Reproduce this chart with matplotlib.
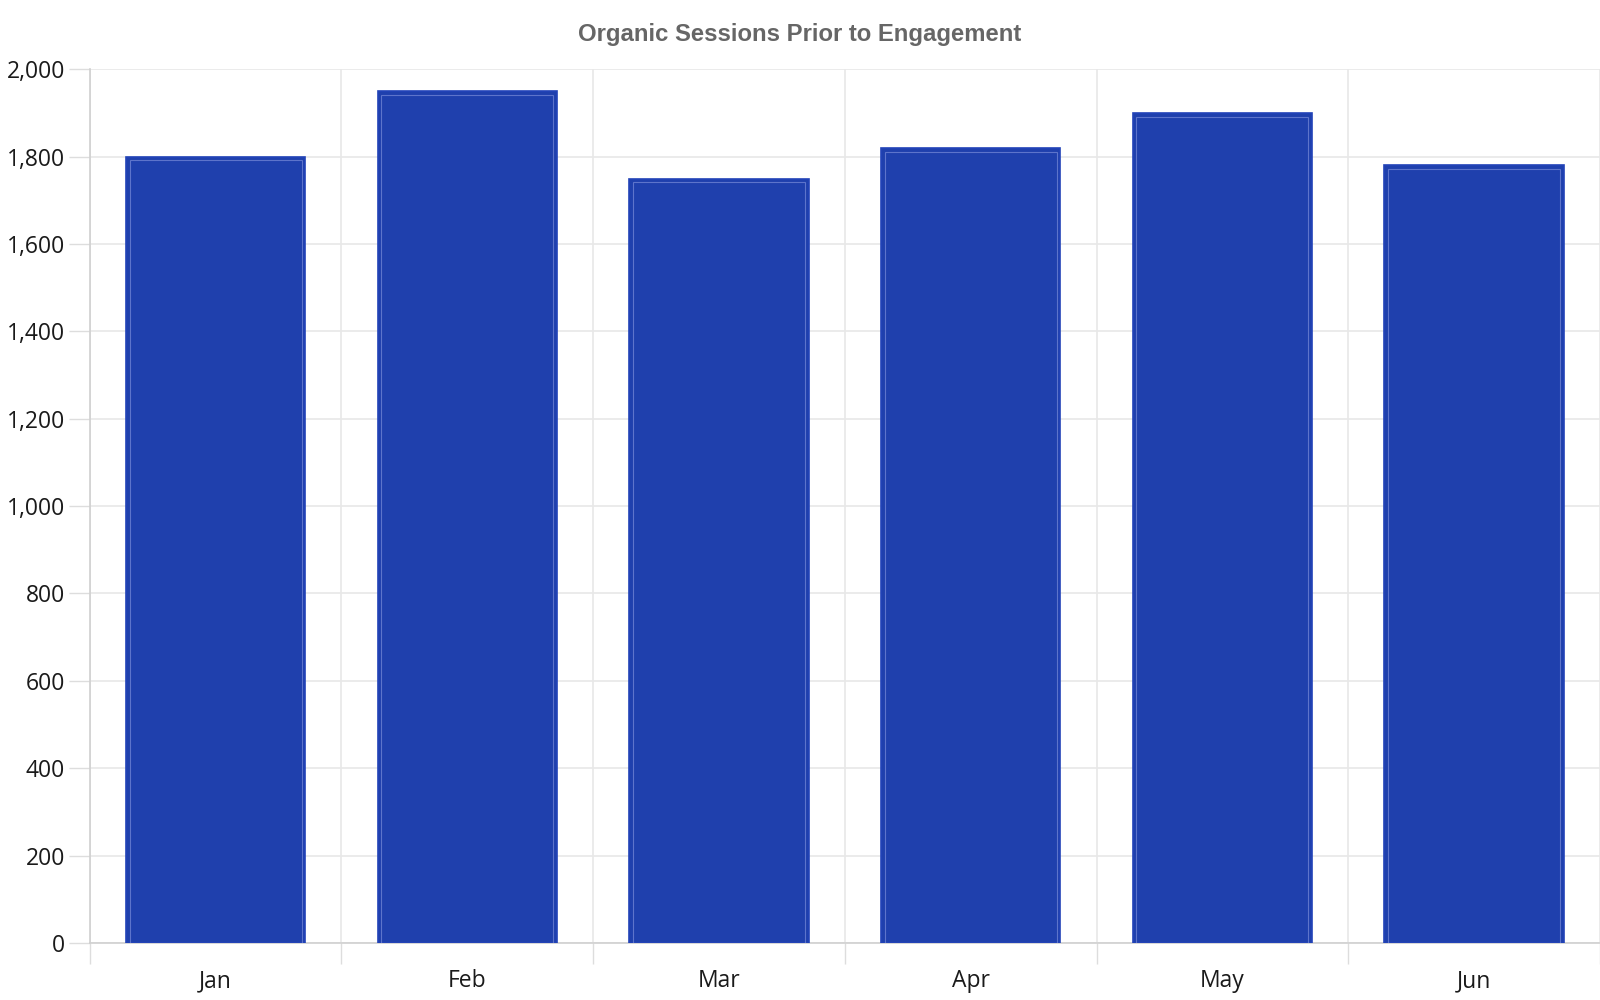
import matplotlib.pyplot as plt
from matplotlib.ticker import FuncFormatter, FixedLocator
import numpy as np

months = ['Jan', 'Feb', 'Mar', 'Apr', 'May', 'Jun']
sessions = [1800, 1950, 1750, 1820, 1900, 1780]
y_ticks = [0, 200, 400, 600, 800, 1000, 1200, 1400, 1600, 1800, 2000]

bar_color = '#1f40ad'
edge_color = '#2243b8'
inner_color = '#5d74cb'
grid_color = '#e8e8e8'

fig = plt.figure(figsize=(16, 10), dpi=100)
ax = fig.add_axes([0.0561, 0.0571, 0.9439, 0.8735])

x = np.arange(len(months))
width = 0.713
ax.bar(x, sessions, width=width, color=bar_color, edgecolor=edge_color,
       linewidth=1.2, zorder=3)
# thin light line drawn just inside each bar
ax.bar(x, np.array(sessions) - 8, width=width - 0.03, fill=False,
       edgecolor=inner_color, linewidth=0.8, zorder=4)

ax.set_xlim(-0.5, len(months) - 0.5)
ax.set_ylim(0, 2000)
ax.set_xticks(x)
ax.set_xticklabels(months, family='Open Sans', fontsize=16.5, color='#1a1a1a')
ax.xaxis.set_minor_locator(FixedLocator(np.arange(len(months) + 1) - 0.5))
ax.tick_params(axis='x', which='major', length=0, pad=19)
ax.tick_params(axis='x', which='minor', length=15, color='#dddddd', width=1)
ax.set_yticks(y_ticks)
ax.yaxis.set_major_formatter(FuncFormatter(lambda v, p: '{:,.0f}'.format(v)))
ax.tick_params(axis='y', length=15, color='#dddddd', width=1, pad=3,
               labelsize=16.5, labelcolor='#1a1a1a')
for lab in ax.get_yticklabels():
    lab.set_family('Open Sans')

ax.grid(axis='y', color=grid_color, linewidth=1.2, zorder=0)
ax.grid(axis='x', which='minor', color=grid_color, linewidth=1.2, zorder=0)
ax.set_axisbelow(True)

for s in ['top', 'right']:
    ax.spines[s].set_visible(False)
ax.spines['left'].set_color('#d0d0d0')
ax.spines['bottom'].set_color('#d0d0d0')
ax.spines['left'].set_linewidth(1.2)
ax.spines['bottom'].set_linewidth(1.2)

fig.text(0.5, 0.966, 'Organic Sessions Prior to Engagement', ha='center',
         va='center', family='Liberation Sans', fontweight='bold',
         fontsize=17.2, color='#666666')

fig.savefig('out.png', dpi=100)
